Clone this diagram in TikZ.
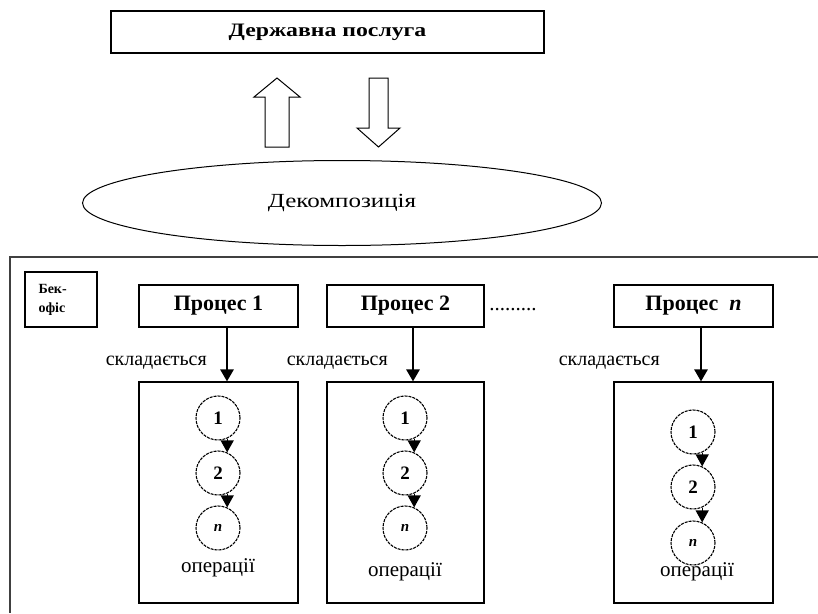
\documentclass[tikz,border=0pt]{standalone}
\usepackage{fontspec}
\usepackage{graphicx}
\setmainfont{Liberation Serif}
\usetikzlibrary{shapes.geometric,arrows.meta}

\tikzset{
  box/.style={draw, line width=1.1pt, rectangle, inner sep=0pt},
  procbox/.style={box, minimum width=159pt, minimum height=42pt,
                  font=\fontsize{22}{24}\selectfont\bfseries},
  opbox/.style={box, minimum width=159pt, minimum height=221pt},
  opnode/.style={draw, circle, dash pattern=on 3pt off 1pt, line width=1.1pt,
                 minimum size=44pt, inner sep=0pt,
                 font=\fontsize{19}{20}\selectfont\bfseries},
  lastop/.style={opnode, font=\fontsize{15}{16}\selectfont\bfseries\itshape},
  bigarrow/.style={line width=2.6pt,
                   -{Triangle[width=13pt,length=12pt]}},
  oparrow/.style={line width=1.2pt,
                  -{Triangle[width=13pt,length=12pt]}},
  blockarrow/.style={draw, line width=1pt, fill=white},
  lbl/.style={font=\fontsize{20}{22}\selectfont, inner sep=0pt},
  oplbl/.style={font=\fontsize{21}{23}\selectfont, inner sep=0pt},
  frame/.style={draw=black!75, line width=1.5pt}
}

\begin{document}
\begin{tikzpicture}[x=1pt, y=-1pt]
  \useasboundingbox (0,0) rectangle (818,613);

  % top level: the service and its decomposition
  \node[box, minimum width=433pt, minimum height=42pt,
        font=\fontsize{19}{21}\selectfont\bfseries]
        (service) at (327.5,32) {\scalebox{1.25}[1]{Державна послуга}};

  \node[draw, ellipse, line width=1pt, minimum width=519pt, minimum height=85pt,
        inner sep=0pt, font=\fontsize{20}{22}\selectfont]
        (decomp) at (342,203) {\scalebox{1.25}[1]{Декомпозиція}};

  % hollow block arrows between the service and the decomposition
  \draw[blockarrow] (265,147) -- (265,97) -- (254,97) -- (277,78)
        -- (300,97) -- (289,97) -- (289,147) -- cycle;
  \draw[blockarrow] (369,78) -- (369,128) -- (357,128) -- (378.5,147)
        -- (400,128) -- (388,128) -- (388,78) -- cycle;

  % back-office frame
  \draw[frame] (818,257) -- (10,257) -- (10,613);

  \node[box, minimum height=55pt, text width=45pt, inner xsep=13.5pt,
        align=left, font=\fontsize{14}{19}\selectfont\bfseries]
        (backoffice) at (61,299.5) {Бек-\\офіс};

  % processes
  \node[procbox] (p1) at (218.5,306) {Процес 1};
  \node[procbox, minimum width=157pt] (p2) at (405.5,306) {Процес 2};
  \node[procbox] (pn) at (693.5,306) {Процес\ \ \textit{n}};

  \node[font=\fontsize{21}{22}\selectfont, inner sep=0pt] (dots) at (513,310) {.........};

  % operation containers
  \node[opbox] (o1) at (218.5,492.5) {};
  \node[opbox, minimum width=157pt] (o2) at (405.5,492.5) {};
  \node[opbox] (on) at (693.5,492.5) {};

  \draw[bigarrow] ([xshift=8.5pt]p1.south) -- ([xshift=8.5pt]o1.north);
  \draw[bigarrow] ([xshift=7.5pt]p2.south) -- ([xshift=7.5pt]o2.north);
  \draw[bigarrow] ([xshift=7.5pt]pn.south) -- ([xshift=7.5pt]on.north);

  \node[lbl, anchor=east] (c1) at (207,363) {складається};
  \node[lbl, anchor=east] (c2) at (388,363) {складається};
  \node[lbl, anchor=east] (cn) at (660,363) {складається};

  % operations of process 1
  \node[opnode] (a1) at (218,418) {1};
  \node[opnode] (a2) at (218,473) {2};
  \node[lastop] (an) at (218,528) {n};
  \draw[oparrow] (a1.-66) -- (a2.66);
  \draw[oparrow] (a2.-66) -- (an.66);
  \node[oplbl] (t1) at (218,568) {операції};

  % operations of process 2
  \node[opnode] (b1) at (405,418) {1};
  \node[opnode] (b2) at (405,473) {2};
  \node[lastop] (bn) at (405,528) {n};
  \draw[oparrow] (b1.-66) -- (b2.66);
  \draw[oparrow] (b2.-66) -- (bn.66);
  \node[oplbl] (t2) at (405,572) {операції};

  % operations of process n
  \node[opnode] (d1) at (693,432) {1};
  \node[opnode] (d2) at (693,487) {2};
  \node[lastop] (dn) at (693,543) {n};
  \draw[oparrow] (d1.-66) -- (d2.66);
  \draw[oparrow] (d2.-66) -- (dn.66);
  \node[oplbl] (tn) at (697,572) {операції};
\end{tikzpicture}
\end{document}
